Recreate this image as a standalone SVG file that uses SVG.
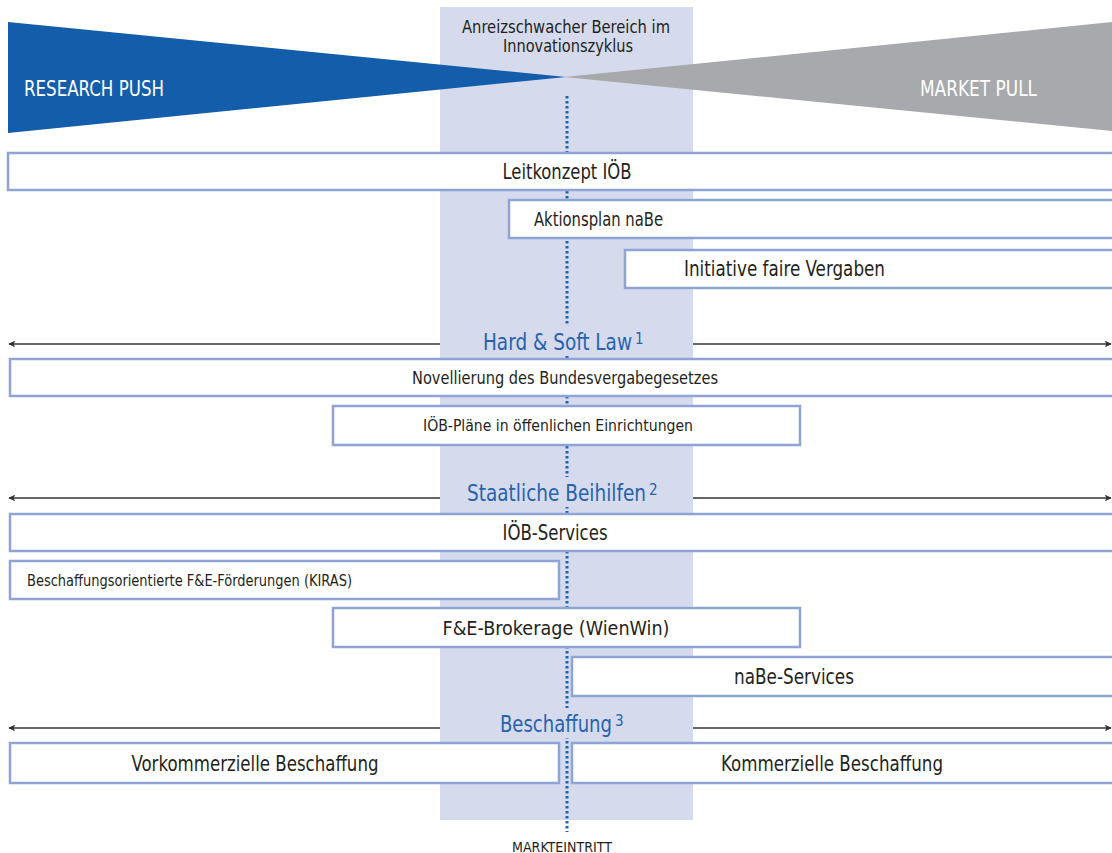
<svg xmlns="http://www.w3.org/2000/svg" width="1112" height="853" viewBox="0 0 1112 853">
<style>
text{font-family:"Liberation Sans Narrow","DejaVu Sans Condensed","Liberation Sans",sans-serif;fill:#231f20}
.box{fill:#fff;stroke:#8fa3d5;stroke-width:2.5}
.blue{fill:#2762ad}
.white{fill:#fff}
.bandbg{fill:#d5dbed}
.arr{stroke:#333;stroke-width:1.5;fill:none}
</style>
<defs>
<marker id="ah" viewBox="0 0 10 10" refX="9" refY="5" markerWidth="7" markerHeight="7" orient="auto-start-reverse" markerUnits="userSpaceOnUse">
<path d="M0,0 L10,5 L0,10 L2.5,5 Z" fill="#333"/>
</marker>
</defs>
<rect width="1112" height="853" fill="#fff"/>
<g id="band">
<rect class="bandbg" x="440" y="7" width="253" height="813"/>
<text x="566" y="33" font-size="17" text-anchor="middle" textLength="208" lengthAdjust="spacingAndGlyphs">Anreizschwacher Bereich im</text>
<text x="568" y="52" font-size="17" text-anchor="middle" textLength="130" lengthAdjust="spacingAndGlyphs">Innovationszyklus</text>
</g>
<g id="research-push">
<polygon points="8,22 8,133 566,77" fill="#135dab"/>
<text x="24" y="96" font-size="22" class="white" textLength="140" lengthAdjust="spacingAndGlyphs">RESEARCH PUSH</text>
</g>
<g id="market-pull">
<polygon points="1112,22 1112,131 564,77" fill="#a7a9ac"/>
<text x="920" y="96" font-size="22" class="white" textLength="117" lengthAdjust="spacingAndGlyphs">MARKET PULL</text>
</g>
<g id="connectors">
<line x1="567" y1="96" x2="567" y2="832" stroke="#1d64b5" stroke-width="3" stroke-dasharray="2.5 2.5"/>
<line class="arr" x1="440" y1="344" x2="9" y2="344" marker-end="url(#ah)"/>
<line class="arr" x1="693" y1="344" x2="1111" y2="344" marker-end="url(#ah)"/>
<line class="arr" x1="440" y1="498" x2="9" y2="498" marker-end="url(#ah)"/>
<line class="arr" x1="693" y1="498" x2="1111" y2="498" marker-end="url(#ah)"/>
<line class="arr" x1="440" y1="728" x2="9" y2="728" marker-end="url(#ah)"/>
<line class="arr" x1="693" y1="728" x2="1111" y2="728" marker-end="url(#ah)"/>
</g>
<g id="leitkonzept">
<rect class="box" x="8" y="153" width="1120" height="37"/>
<text x="567" y="179" font-size="21" text-anchor="middle" textLength="129" lengthAdjust="spacingAndGlyphs">Leitkonzept IÖB</text>
</g>
<g id="aktionsplan">
<rect class="box" x="509" y="200" width="620" height="38"/>
<text x="534" y="226" font-size="19" textLength="129" lengthAdjust="spacingAndGlyphs">Aktionsplan naBe</text>
</g>
<g id="initiative">
<rect class="box" x="625" y="250" width="500" height="38"/>
<text x="684" y="276" font-size="21" textLength="201" lengthAdjust="spacingAndGlyphs">Initiative faire Vergaben</text>
</g>
<g id="hard-soft-law">
<rect class="bandbg" x="476" y="326" width="172" height="30"/>
<text x="483" y="350" font-size="23" class="blue" textLength="149" lengthAdjust="spacingAndGlyphs">Hard &amp; Soft Law</text>
<text x="635" y="344" font-size="15" class="blue">1</text>
</g>
<g id="novellierung">
<rect class="box" x="10" y="359" width="1120" height="37"/>
<text x="565" y="384" font-size="18" text-anchor="middle" textLength="306" lengthAdjust="spacingAndGlyphs">Novellierung des Bundesvergabegesetzes</text>
</g>
<g id="oeb-plaene">
<rect class="box" x="333" y="406" width="467" height="39"/>
<text x="558" y="431" font-size="16" text-anchor="middle" textLength="270" lengthAdjust="spacingAndGlyphs">IÖB-Pläne in öffenlichen Einrichtungen</text>
</g>
<g id="staatliche-beihilfen">
<rect class="bandbg" x="460" y="477" width="204" height="30"/>
<text x="467" y="501" font-size="23" class="blue" textLength="179" lengthAdjust="spacingAndGlyphs">Staatliche Beihilfen</text>
<text x="649" y="495" font-size="15" class="blue">2</text>
</g>
<g id="oeb-services">
<rect class="box" x="10" y="514" width="1120" height="37"/>
<text x="555" y="540" font-size="21" text-anchor="middle" textLength="105" lengthAdjust="spacingAndGlyphs">IÖB-Services</text>
</g>
<g id="kiras">
<rect class="box" x="10" y="561" width="549" height="38"/>
<text x="27" y="586" font-size="15" textLength="325" lengthAdjust="spacingAndGlyphs">Beschaffungsorientierte F&amp;E-Förderungen (KIRAS)</text>
</g>
<g id="brokerage">
<rect class="box" x="333" y="608" width="467" height="39"/>
<text x="556" y="635" font-size="20" text-anchor="middle" textLength="227" lengthAdjust="spacingAndGlyphs">F&amp;E-Brokerage (WienWin)</text>
</g>
<g id="nabe-services">
<rect class="box" x="572" y="657" width="560" height="39"/>
<text x="794" y="684" font-size="21" text-anchor="middle" textLength="120" lengthAdjust="spacingAndGlyphs">naBe-Services</text>
</g>
<g id="beschaffung">
<rect class="bandbg" x="494" y="708" width="136" height="30"/>
<text x="500" y="732" font-size="23" class="blue" textLength="112" lengthAdjust="spacingAndGlyphs">Beschaffung</text>
<text x="615" y="726" font-size="15" class="blue">3</text>
</g>
<g id="vorkommerzielle">
<rect class="box" x="10" y="743" width="549" height="40"/>
<text x="255" y="771" font-size="21" text-anchor="middle" textLength="247" lengthAdjust="spacingAndGlyphs">Vorkommerzielle Beschaffung</text>
</g>
<g id="kommerzielle">
<rect class="box" x="572" y="743" width="560" height="40"/>
<text x="832" y="771" font-size="21" text-anchor="middle" textLength="222" lengthAdjust="spacingAndGlyphs">Kommerzielle Beschaffung</text>
</g>
<g id="markteintritt">
<text x="562" y="852" font-size="14" text-anchor="middle" textLength="100" lengthAdjust="spacingAndGlyphs">MARKTEINTRITT</text>
</g>
</svg>
